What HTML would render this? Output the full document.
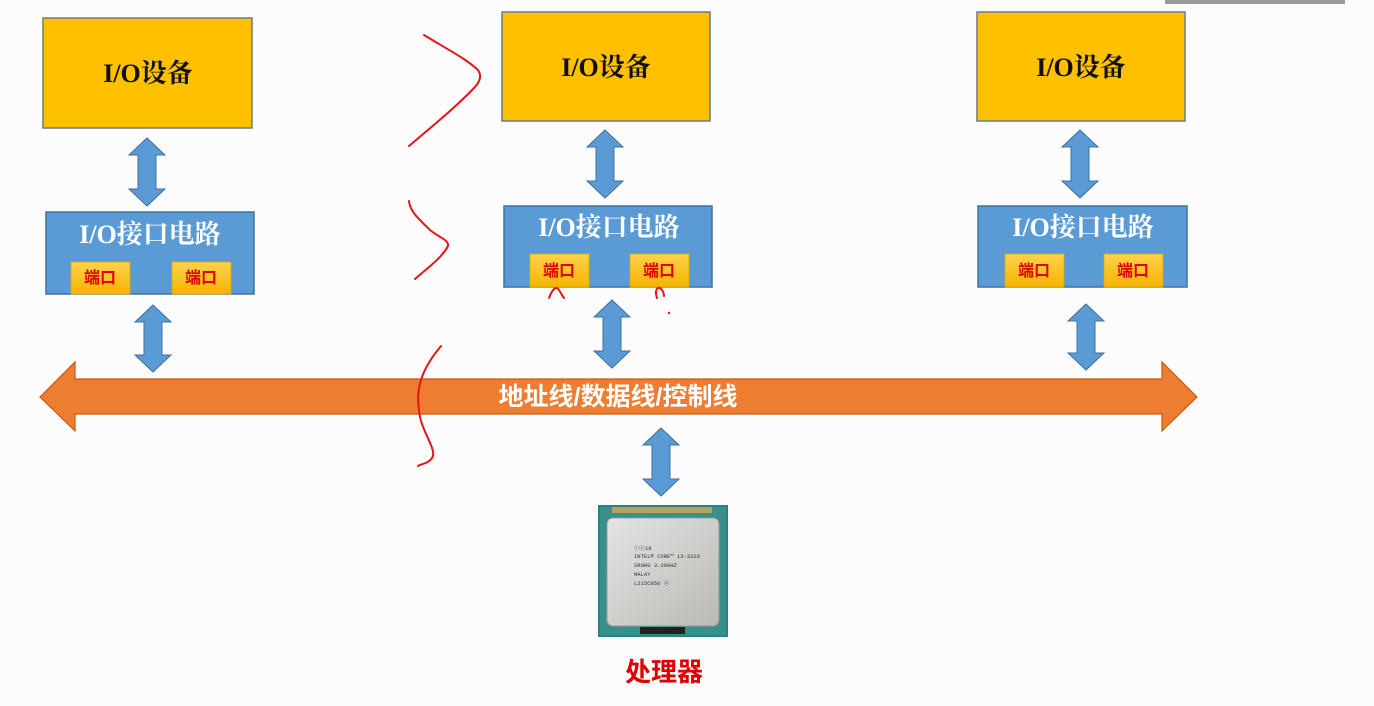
<!DOCTYPE html>
<html><head><meta charset="utf-8"><style>
html,body{margin:0;padding:0;background:#fcfcfc;}
svg{display:block}
.t{font-family:"Liberation Serif","Noto Serif CJK SC",serif;font-weight:bold;}
.c{font-family:"Liberation Sans","Noto Sans CJK SC",sans-serif;font-weight:bold;}
</style></head><body>
<svg width="1374" height="706" viewBox="0 0 1374 706" xmlns="http://www.w3.org/2000/svg">
<defs>
<linearGradient id="pg" x1="0" y1="0" x2="0" y2="1"><stop offset="0" stop-color="#FFD24D"/><stop offset="1" stop-color="#F5B400"/></linearGradient>
<linearGradient id="cg" x1="0" y1="0" x2="1" y2="1"><stop offset="0" stop-color="#e4e4e2"/><stop offset="1" stop-color="#b9b9b6"/></linearGradient>
</defs>
<rect x="1165" y="0" width="180" height="4" fill="#9a9a9a"/>
<g fill="#FFC000" stroke="#6d7a8a" stroke-width="1.5">
<rect x="43" y="18" width="209" height="110"/>
<rect x="502" y="12" width="208" height="109"/>
<rect x="977" y="12" width="208" height="109"/>
</g>
<g class="t" font-size="26" fill="#111" text-anchor="middle">
<text x="148" y="82">I/O设备</text>
<text x="606" y="76">I/O设备</text>
<text x="1081" y="76">I/O设备</text>
</g>
<g fill="#5B9BD5" stroke="#41719C" stroke-width="1.5">
<rect x="46" y="212" width="208" height="82"/>
<rect x="504" y="206" width="208" height="81"/>
<rect x="978" y="206" width="209" height="81"/>
</g>
<g class="t" font-size="26" fill="#fff" text-anchor="middle">
<text x="150" y="243">I/O接口电路</text>
<text x="609" y="236">I/O接口电路</text>
<text x="1083" y="236">I/O接口电路</text>
</g>
<g fill="url(#pg)" stroke="#e0a800" stroke-width="0.8">
<rect x="71" y="262" width="59" height="32"/><rect x="172" y="262" width="59" height="32"/>
<rect x="530" y="254" width="59" height="33"/><rect x="630" y="254" width="59" height="33"/>
<rect x="1005" y="254" width="59" height="33"/><rect x="1104" y="254" width="59" height="33"/>
</g>
<g class="c" font-size="16" fill="#e00000" text-anchor="middle">
<text x="100" y="283">端口</text><text x="201" y="283">端口</text>
<text x="559" y="276">端口</text><text x="659" y="276">端口</text>
<text x="1034" y="276">端口</text><text x="1133" y="276">端口</text>
</g>
<g fill="#5B9BD5" stroke="#41719C" stroke-width="1">
<polygon points="147,138 165,155 156,155 156,189 165,189 147,206 129,189 138,189 138,155 129,155"/>
<polygon points="605,130 623,147 614,147 614,181 623,181 605,198 587,181 596,181 596,147 587,147"/>
<polygon points="1080,130 1098,147 1089,147 1089,181 1098,181 1080,198 1062,181 1071,181 1071,147 1062,147"/>
<polygon points="153,305 171,322 162,322 162,355 171,355 153,372 135,355 144,355 144,322 135,322"/>
<polygon points="612,300 630,317 621,317 621,351 630,351 612,368 594,351 603,351 603,317 594,317"/>
<polygon points="1086,304 1104,321 1095,321 1095,353 1104,353 1086,370 1068,353 1077,353 1077,321 1068,321"/>
<polygon points="661,428 679,445 670,445 670,479 679,479 661,496 643,479 652,479 652,445 643,445"/>
</g>
<polygon points="40,397 75,362 75,379 1162,379 1162,362 1197,397 1162,431 1162,414 75,414 75,431" fill="#ED7D31" stroke="#C55A11" stroke-width="1.2"/>
<text class="c" x="618" y="405" font-size="25" fill="#fff" text-anchor="middle">地址线/数据线/控制线</text>
<rect x="598" y="505" width="130" height="132" fill="#2b7f86"/>
<rect x="600" y="507" width="126" height="128" fill="#3a8f8a"/>
<rect x="612" y="507" width="100" height="6" fill="#b9a35a"/>
<rect x="607" y="518" width="112" height="108" rx="6" fill="url(#cg)" stroke="#9a9a98"/>
<rect x="640" y="627" width="45" height="7" fill="#222"/>
<g font-family="Liberation Mono,monospace" font-size="5.5" fill="#333">
<text x="634" y="550">ⓘⓒ18</text>
<text x="634" y="558">INTEL® CORE™ i3-3220</text>
<text x="634" y="567">SR0RG 3.30GHZ</text>
<text x="634" y="576">MALAY</text>
<text x="634" y="585">L215C850 ⓔ</text>
</g>
<text class="c" x="664" y="681" font-size="26" fill="#e00000" text-anchor="middle">处理器</text>
<g fill="none" stroke="#e8141a" stroke-width="2" stroke-linecap="round" stroke-linejoin="round">
<path d="M424,35 C445,48 465,58 478,70 C482,76 480,82 474,88 C455,108 430,128 409,146"/>
<path d="M409,201 C410,212 420,220 430,230 C440,238 449,240 448,246 C442,258 425,270 415,279"/>
<path d="M441,346 C425,365 415,385 419,410 C420,430 438,450 432,458 C428,464 420,464 418,466"/>
<path d="M549,298 C552,290 556,285 559,290 C561,293 563,297 564,298"/>
<path d="M657,298 C655,292 656,287 660,288 C663,290 664,294 664,296"/>
</g>
<circle cx="669" cy="313" r="1.2" fill="#e8141a"/>
</svg>
</body></html>
